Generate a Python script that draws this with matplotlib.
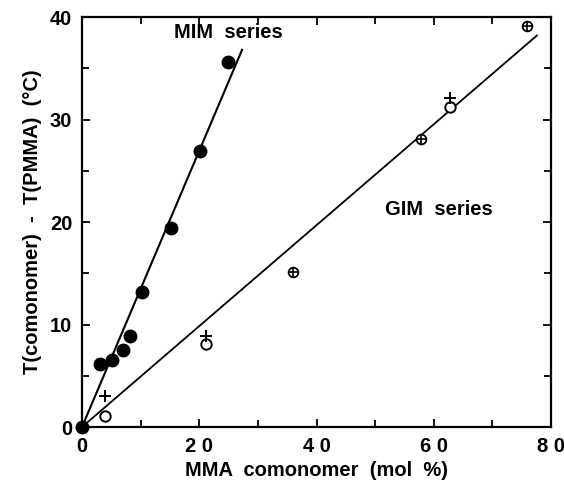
import matplotlib.pyplot as plt
from matplotlib.ticker import MultipleLocator

plt.rcParams['font.family'] = ['Liberation Sans', 'DejaVu Sans']
plt.rcParams['font.weight'] = 'bold'

# MIM series (filled circles)
mim_x = [0.0, 3.1, 5.1, 7.0, 8.2, 10.2, 15.2, 20.1, 24.9]
mim_y = [0.0, 6.1, 6.5, 7.5, 8.9, 13.2, 19.4, 26.9, 35.6]
mim_fit_x = [0.0, 27.3]
mim_fit_y = [0.0, 36.8]

# GIM series: open circles, plus signs, and both overlapped
gim_circle_x = [4.0, 21.1, 62.8]
gim_circle_y = [1.1, 8.1, 31.2]
gim_plus_x = [4.0, 21.1, 62.8]
gim_plus_y = [3.0, 8.9, 32.1]
gim_both_x = [36.0, 57.8, 75.9]
gim_both_y = [15.1, 28.1, 39.1]
gim_fit_x = [0.0, 77.6]
gim_fit_y = [0.0, 38.2]

x_ticks = [0, 20, 40, 60, 80]
x_labels = ['0', '2 0', '4 0', '6 0', '8 0']
y_ticks = [0, 10, 20, 30, 40]

fig = plt.figure(figsize=(5.64, 4.82), dpi=100)
ax = fig.add_axes([0.1454, 0.1141, 0.8316, 0.8506])

ax.plot(mim_fit_x, mim_fit_y, color='black', lw=1.5)
ax.plot(gim_fit_x, gim_fit_y, color='black', lw=1.3)

ax.plot(mim_x, mim_y, 'o', color='black', ms=9, clip_on=False)
ax.plot(gim_circle_x, gim_circle_y, 'o', mfc='white', mec='black', mew=1.4, ms=7.5, clip_on=False)
ax.plot(gim_plus_x, gim_plus_y, '+', color='black', mew=1.4, ms=9, clip_on=False)
ax.plot(gim_both_x, gim_both_y, 'o', mfc='white', mec='black', mew=1.3, ms=7, clip_on=False)
ax.plot(gim_both_x, gim_both_y, '+', color='black', mew=1.2, ms=7, clip_on=False)

ax.text(25, 38.5, 'MIM  series', ha='center', va='center', fontsize=14.5, fontweight='bold')
ax.text(60.8, 21.2, 'GIM  series', ha='center', va='center', fontsize=14.5, fontweight='bold')

ax.set_xlim(0, 80)
ax.set_ylim(0, 40)
ax.set_xticks(x_ticks)
ax.set_xticklabels(x_labels)
ax.set_yticks(y_ticks)
ax.xaxis.set_minor_locator(MultipleLocator(10))
ax.yaxis.set_minor_locator(MultipleLocator(5))
ax.tick_params(which='both', direction='in', top=True, right=True, width=1.3, labelsize=14.5, pad=7)
ax.tick_params(which='major', length=6)
ax.tick_params(which='minor', length=5)
for s in ax.spines.values():
    s.set_linewidth(1.6)

ax.set_xlabel('MMA  comonomer  (mol  %)', fontsize=14.5, fontweight='bold', labelpad=4)
ax.set_ylabel('T(comonomer)  -  T(PMMA)  (°C)', fontsize=14.5, fontweight='bold', labelpad=6)

fig.savefig('out.png', dpi=100)
